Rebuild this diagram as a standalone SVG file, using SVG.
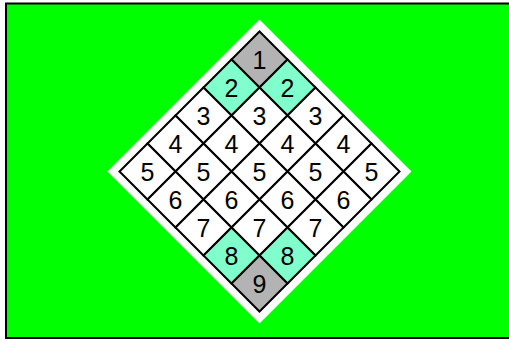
<svg xmlns="http://www.w3.org/2000/svg" width="509" height="340" viewBox="0 0 509 340">
<style>
.c{stroke:#000;stroke-width:2;stroke-linejoin:miter}
.w{fill:#fff}
.g{fill:#b3b3b3}
.a{fill:#80ffcc}
text{font-family:"Liberation Sans",Arial,sans-serif;font-size:25px;text-anchor:middle;fill:#000}
</style>
<rect id="background" x="6" y="3.5" width="510" height="334.5" fill="#00ff00" stroke="#000" stroke-width="2"/>
<polygon id="board" points="259.5,19.5 411.5,171.5 259.5,323.5 107.5,171.5" fill="#fff"/>
<g id="cells">
<g id="c00"><polygon class="c g" points="259.5,31.5 287.5,59.5 259.5,87.5 231.5,59.5"/><text x="259.5" y="68.5">1</text></g>
<g id="c01"><polygon class="c a" points="287.5,59.5 315.5,87.5 287.5,115.5 259.5,87.5"/><text x="287.5" y="96.5">2</text></g>
<g id="c10"><polygon class="c a" points="231.5,59.5 259.5,87.5 231.5,115.5 203.5,87.5"/><text x="231.5" y="96.5">2</text></g>
<g id="c02"><polygon class="c w" points="315.5,87.5 343.5,115.5 315.5,143.5 287.5,115.5"/><text x="315.5" y="124.5">3</text></g>
<g id="c11"><polygon class="c w" points="259.5,87.5 287.5,115.5 259.5,143.5 231.5,115.5"/><text x="259.5" y="124.5">3</text></g>
<g id="c20"><polygon class="c w" points="203.5,87.5 231.5,115.5 203.5,143.5 175.5,115.5"/><text x="203.5" y="124.5">3</text></g>
<g id="c03"><polygon class="c w" points="343.5,115.5 371.5,143.5 343.5,171.5 315.5,143.5"/><text x="343.5" y="152.5">4</text></g>
<g id="c12"><polygon class="c w" points="287.5,115.5 315.5,143.5 287.5,171.5 259.5,143.5"/><text x="287.5" y="152.5">4</text></g>
<g id="c21"><polygon class="c w" points="231.5,115.5 259.5,143.5 231.5,171.5 203.5,143.5"/><text x="231.5" y="152.5">4</text></g>
<g id="c30"><polygon class="c w" points="175.5,115.5 203.5,143.5 175.5,171.5 147.5,143.5"/><text x="175.5" y="152.5">4</text></g>
<g id="c04"><polygon class="c w" points="371.5,143.5 399.5,171.5 371.5,199.5 343.5,171.5"/><text x="371.5" y="180.5">5</text></g>
<g id="c13"><polygon class="c w" points="315.5,143.5 343.5,171.5 315.5,199.5 287.5,171.5"/><text x="315.5" y="180.5">5</text></g>
<g id="c22"><polygon class="c w" points="259.5,143.5 287.5,171.5 259.5,199.5 231.5,171.5"/><text x="259.5" y="180.5">5</text></g>
<g id="c31"><polygon class="c w" points="203.5,143.5 231.5,171.5 203.5,199.5 175.5,171.5"/><text x="203.5" y="180.5">5</text></g>
<g id="c40"><polygon class="c w" points="147.5,143.5 175.5,171.5 147.5,199.5 119.5,171.5"/><text x="147.5" y="180.5">5</text></g>
<g id="c14"><polygon class="c w" points="343.5,171.5 371.5,199.5 343.5,227.5 315.5,199.5"/><text x="343.5" y="208.5">6</text></g>
<g id="c23"><polygon class="c w" points="287.5,171.5 315.5,199.5 287.5,227.5 259.5,199.5"/><text x="287.5" y="208.5">6</text></g>
<g id="c32"><polygon class="c w" points="231.5,171.5 259.5,199.5 231.5,227.5 203.5,199.5"/><text x="231.5" y="208.5">6</text></g>
<g id="c41"><polygon class="c w" points="175.5,171.5 203.5,199.5 175.5,227.5 147.5,199.5"/><text x="175.5" y="208.5">6</text></g>
<g id="c24"><polygon class="c w" points="315.5,199.5 343.5,227.5 315.5,255.5 287.5,227.5"/><text x="315.5" y="236.5">7</text></g>
<g id="c33"><polygon class="c w" points="259.5,199.5 287.5,227.5 259.5,255.5 231.5,227.5"/><text x="259.5" y="236.5">7</text></g>
<g id="c42"><polygon class="c w" points="203.5,199.5 231.5,227.5 203.5,255.5 175.5,227.5"/><text x="203.5" y="236.5">7</text></g>
<g id="c34"><polygon class="c a" points="287.5,227.5 315.5,255.5 287.5,283.5 259.5,255.5"/><text x="287.5" y="264.5">8</text></g>
<g id="c43"><polygon class="c a" points="231.5,227.5 259.5,255.5 231.5,283.5 203.5,255.5"/><text x="231.5" y="264.5">8</text></g>
<g id="c44"><polygon class="c g" points="259.5,255.5 287.5,283.5 259.5,311.5 231.5,283.5"/><text x="259.5" y="292.5">9</text></g>
</g>
<g id="connectors"/>
</svg>
